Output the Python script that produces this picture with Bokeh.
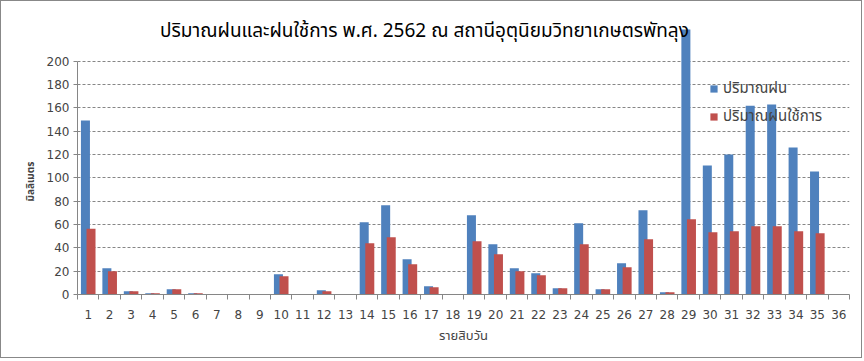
from bokeh.plotting import figure
from bokeh.models import Range1d, FixedTicker, Legend, LegendItem, Label, Title, ColumnDataSource
from bokeh.transform import dodge
from bokeh.embed import file_html
from bokeh.resources import INLINE

# ---- data ----
periods = list(range(1, 37))
rain = [149.0, 22.5, 2.8, 1.1, 4.6, 1.1, 0, 0, 0, 17.4, 0, 3.7, 0, 61.8, 76.4, 30.2, 7.1, 0,
        67.8, 43.0, 22.5, 18.2, 5.4, 61.0, 4.6, 26.8, 72.1, 2.0, 227.0, 110.5, 120.0, 161.8,
        162.7, 125.9, 105.4, 0]
eff_rain = [56.4, 20.0, 2.8, 1.1, 4.6, 1.0, 0, 0, 0, 15.7, 0, 2.8, 0, 43.9, 49.0, 25.9, 6.3, 0,
            45.6, 34.5, 20.0, 16.5, 5.4, 43.0, 4.6, 23.4, 47.3, 2.0, 64.4, 53.3, 54.1, 58.4,
            58.4, 54.1, 52.4, 0]
y_ticks = list(range(0, 201, 20))
series_names = ["ปริมาณฝน", "ปริมาณฝนใช้การ"]
title_text = "ปริมาณฝนและฝนใช้การ พ.ศ. 2562 ณ สถานีอุตุนิยมวิทยาเกษตรพัทลุง"
x_title = "รายสิบวัน"
y_title = "มิลลิเมตร"

BLUE = "#4F81BD"
RED = "#C0504D"
GRAY = "#868686"
THAI = "Tahoma, 'Noto Sans Thai', 'Leelawadee UI', 'DejaVu Sans', sans-serif"

src = ColumnDataSource(dict(x=periods, rain=rain, eff=eff_rain))

W, H = 862, 358
p = figure(width=W, height=H, output_backend="svg", toolbar_location=None,
           x_range=Range1d(0.5, 36.5), y_range=Range1d(0, 251),
           min_border_left=76, min_border_right=14, min_border_top=0, min_border_bottom=65)
p.styles = {"border": "1px solid #888888"}
p.outline_line_color = None

r1 = p.vbar(x=dodge("x", -0.13, range=p.x_range), top="rain", width=0.42, source=src,
            fill_color=BLUE, line_color=None)
r2 = p.vbar(x=dodge("x", 0.13, range=p.x_range), top="eff", width=0.42, source=src,
            fill_color=RED, line_color=None)

# axes
p.xaxis.ticker = FixedTicker(ticks=periods, minor_ticks=[i + 0.5 for i in range(0, 37)])
p.xaxis.major_tick_line_color = None
p.xaxis.major_tick_out = 5
p.xaxis.major_tick_in = 0
p.xaxis.minor_tick_line_color = GRAY
p.xaxis.minor_tick_out = 5
p.xaxis.minor_tick_in = 0
p.xaxis.axis_line_color = GRAY
p.xaxis.major_label_text_font = "DejaVu Sans"
p.xaxis.major_label_text_font_size = "12px"
p.xaxis.major_label_standoff = 10
p.xaxis.axis_label = x_title
p.xaxis.axis_label_text_font = THAI
p.xaxis.axis_label_text_font_style = "normal"
p.xaxis.axis_label_text_font_size = "13px"
p.xaxis.axis_label_standoff = 4

p.yaxis.ticker = FixedTicker(ticks=y_ticks, minor_ticks=[])
p.yaxis.bounds = (0, 200)
p.yaxis.axis_line_color = GRAY
p.yaxis.major_tick_line_color = GRAY
p.yaxis.major_tick_out = 4
p.yaxis.major_tick_in = 0
p.yaxis.major_label_text_font = "DejaVu Sans"
p.yaxis.major_label_text_font_size = "12px"
p.yaxis.major_label_standoff = 4

# y-axis title (placed as a side title so it sits beside the 0–200 part of the axis)
ytitle = Title(text=y_title, align="left", offset=93, text_font=THAI,
               text_font_style="bold", text_font_size="10px", standoff=10)
p.add_layout(ytitle, "left")

p.xgrid.grid_line_color = None
p.ygrid.grid_line_color = GRAY
p.ygrid.grid_line_dash = "3 2"
p.ygrid.grid_line_width = 1

legend = Legend(items=[LegendItem(label=series_names[0], renderers=[r1]),
                       LegendItem(label=series_names[1], renderers=[r2])],
                location=(632, 166), background_fill_alpha=0, border_line_color=None,
                glyph_width=9, glyph_height=9, label_text_font=THAI,
                label_text_font_size="15px", spacing=5, padding=2, label_standoff=5)
p.add_layout(legend)

# chart title positioned relative to the plot frame (screen px)
title = Label(x=347, y=263, x_units="screen", y_units="screen", text=title_text,
              text_align="center", text_baseline="alphabetic", text_font=THAI,
              text_font_size="19px", text_color="black")
p.add_layout(title)

open("out.html", "w").write(file_html(p, INLINE))
